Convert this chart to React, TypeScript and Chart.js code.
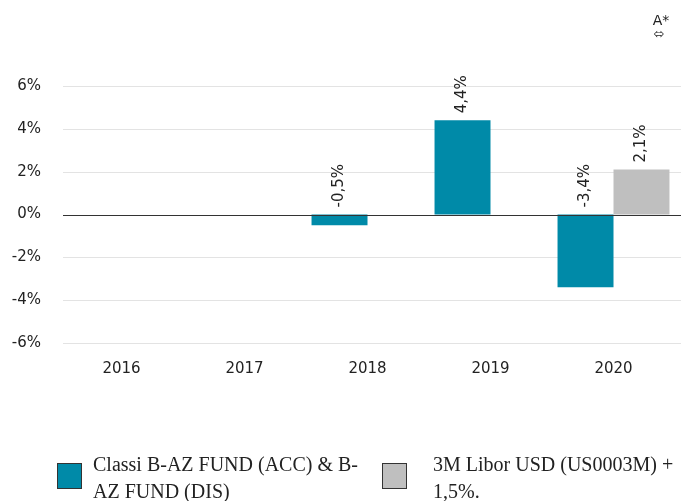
import React, { useEffect, useRef } from "react";
import { Chart, registerables } from "chart.js";

Chart.register(...registerables);

const categories = ["2016", "2017", "2018", "2019", "2020"];
const fundValues: (number | null)[] = [null, null, -0.5, 4.4, -3.4];
const benchmarkValues: (number | null)[] = [null, null, null, null, 2.1];
const seriesNames = [
  "Classi B-AZ FUND (ACC) & B-AZ FUND (DIS)",
  "3M Libor USD (US0003M) + 1,5%.",
];
const seriesColors = ["#008aa8", "#bfbfbf"];
const yTicks = [-6, -4, -2, 0, 2, 4, 6];

const fmt = (v: number) => v.toFixed(1).replace(".", ",") + "%";

function wrapText(ctx: CanvasRenderingContext2D, text: string, maxW: number): string[] {
  const tokens = text.match(/[^\s-]+-?|\s+|-/g) || [text];
  const lines: string[] = [];
  let cur = "";
  for (const t of tokens) {
    const test = cur + t;
    if (cur.trim() !== "" && ctx.measureText(test.trimEnd()).width > maxW) {
      lines.push(cur.trimEnd());
      cur = t.trimStart();
    } else {
      cur = test;
    }
  }
  if (cur.trim() !== "") lines.push(cur.trimEnd());
  return lines;
}

const gridPlugin = {
  id: "wideGrid",
  beforeDatasetsDraw(chart: any) {
    const ctx = chart.ctx as CanvasRenderingContext2D;
    const y = chart.scales.y;
    const x0 = chart.chartArea.left + 3;
    const x1 = chart.width;
    ctx.save();
    ctx.lineWidth = 1;
    y.ticks.forEach((t: any) => {
      const py = Math.round(y.getPixelForValue(t.value)) + 0.5;
      ctx.strokeStyle = t.value === 0 ? "#333" : "#e3e3e3";
      ctx.beginPath();
      ctx.moveTo(x0, py);
      ctx.lineTo(x1, py);
      ctx.stroke();
    });
    ctx.restore();
  },
  afterDatasetsDraw(chart: any) {
    // redraw zero line on top of bars' base
    const ctx = chart.ctx as CanvasRenderingContext2D;
    const y = chart.scales.y;
    const py = Math.round(y.getPixelForValue(0)) + 0.5;
    ctx.save();
    ctx.strokeStyle = "#333";
    ctx.lineWidth = 1;
    ctx.beginPath();
    ctx.moveTo(chart.chartArea.left + 3, py);
    ctx.lineTo(chart.width, py);
    ctx.stroke();
    ctx.restore();
  },
};

const labelPlugin = {
  id: "barLabels",
  afterDatasetsDraw(chart: any) {
    const ctx = chart.ctx as CanvasRenderingContext2D;
    const y = chart.scales.y;
    ctx.save();
    ctx.font = "15px 'DejaVu Sans'";
    ctx.fillStyle = "#222";
    ctx.textAlign = "left";
    ctx.textBaseline = "middle";
    chart.data.datasets.forEach((ds: any, i: number) => {
      const meta = chart.getDatasetMeta(i);
      meta.data.forEach((bar: any, j: number) => {
        const v = ds.data[j];
        if (v == null) return;
        const py = y.getPixelForValue(Math.max(0, v));
        ctx.save();
        ctx.translate(bar.x, py - 7);
        ctx.rotate(-Math.PI / 2);
        ctx.fillText(fmt(v), 0, 0);
        ctx.restore();
      });
    });
    ctx.restore();
  },
};

const legendPlugin = {
  id: "customLegend",
  afterDraw(chart: any) {
    const ctx = chart.ctx as CanvasRenderingContext2D;
    ctx.save();
    ctx.font = "20px 'Liberation Serif'";
    ctx.textBaseline = "alphabetic";
    ctx.textAlign = "left";
    const items = [
      { boxX: 57, textX: 93 },
      { boxX: 382, textX: 433 },
    ];
    chart.data.datasets.forEach((ds: any, i: number) => {
      const it = items[i];
      ctx.fillStyle = ds.backgroundColor;
      ctx.fillRect(it.boxX, 463, 25, 26);
      ctx.strokeStyle = "#333";
      ctx.lineWidth = 1;
      ctx.strokeRect(it.boxX + 0.5, 463.5, 24, 25);
      const lines = wrapText(ctx, ds.label, 275);
      ctx.fillStyle = "#222";
      lines.forEach((ln, k) => ctx.fillText(ln, it.textX, 471 + k * 27));
    });
    // top-right marker
    ctx.font = "14px 'DejaVu Sans'";
    ctx.fillStyle = "#222";
    ctx.textAlign = "center";
    ctx.textBaseline = "alphabetic";
    ctx.fillText("A*", 661, 25);
    ctx.font = "13px 'DejaVu Sans'";
    ctx.fillText("⬄", 659, 38);
    ctx.restore();
  },
};

export default function App() {
  const ref = useRef<HTMLCanvasElement>(null);
  useEffect(() => {
    if (!ref.current) return;
    Chart.defaults.font.family = "'DejaVu Sans'";
    const chart = new Chart(ref.current, {
      type: "bar",
      data: {
        labels: categories,
        datasets: [
          {
            label: seriesNames[0],
            data: fundValues,
            backgroundColor: seriesColors[0],
            categoryPercentage: 0.91,
            barPercentage: 1,
          },
          {
            label: seriesNames[1],
            data: benchmarkValues,
            backgroundColor: seriesColors[1],
            categoryPercentage: 0.91,
            barPercentage: 1,
          },
        ] as any,
      },
      options: {
        animation: false,
        responsive: true,
        maintainAspectRatio: false,
        layout: { padding: { top: 86, right: 6, left: 0, bottom: 0 } },
        plugins: {
          legend: { display: false },
          tooltip: { enabled: false },
        },
        scales: {
          x: {
            grid: { display: false, drawTicks: false },
            border: { display: false },
            ticks: { color: "#222", font: { size: 15 }, padding: 17 },
            afterFit: (s: any) => {
              s.height = 158;
            },
          },
          y: {
            min: -6,
            max: 6,
            afterBuildTicks: (s: any) => {
              s.ticks = yTicks.map((v) => ({ value: v }));
            },
            grid: { display: false, drawTicks: false },
            border: { display: false },
            ticks: {
              color: "#222",
              font: { size: 15 },
              padding: 19,
              callback: (v: any) => v + "%",
            },
            afterFit: (s: any) => {
              s.width = 60;
            },
          },
        },
      },
      plugins: [gridPlugin, labelPlugin, legendPlugin],
    });
    return () => chart.destroy();
  }, []);
  return (
    <div style={{ position: "absolute", left: 0, top: 0, width: 681, height: 501 }}>
      <canvas ref={ref} />
    </div>
  );
}
